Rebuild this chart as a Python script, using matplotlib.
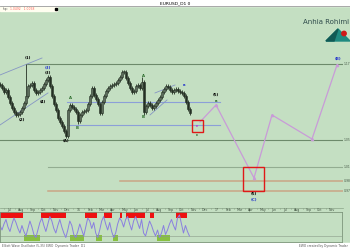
import matplotlib
matplotlib.use("Agg")
import matplotlib.pyplot as plt
from matplotlib.patches import Rectangle, Polygon, Circle
import numpy as np

# ---------------- data ----------------
closes = [1.1376, 1.1328, 1.1264, 1.1296, 1.1183, 1.1087, 1.1006, 1.0942, 1.0894, 1.0910,
          1.0942, 1.1006, 1.1087, 1.1199, 1.1360, 1.1376, 1.1408, 1.1296, 1.1248, 1.1264,
          1.1296, 1.1328, 1.1392, 1.1457, 1.1505, 1.1360, 1.1199, 1.1071, 1.0974, 1.0846,
          1.0781, 1.0717, 1.0637, 1.0556, 1.0974, 1.1055, 1.1022, 1.0990, 1.0942, 1.0797,
          1.0894, 1.0942, 1.0958, 1.0974, 1.1071, 1.1199, 1.1328, 1.1215, 1.1151, 1.1071,
          1.0926, 1.1103, 1.1199, 1.1280, 1.1328, 1.1360, 1.1376, 1.1392, 1.1408, 1.1457,
          1.1505, 1.1585, 1.1585, 1.1489, 1.1408, 1.1328, 1.1264, 1.1280, 1.1360, 1.1376,
          1.1328, 1.1424, 1.0942, 1.1039, 1.1087, 1.1055, 1.1006, 1.1039, 1.1087, 1.1135,
          1.1183, 1.1264, 1.1312, 1.1360, 1.1344, 1.1296, 1.1264, 1.1296, 1.1312, 1.1280,
          1.1264, 1.1248, 1.1199, 1.1103, 1.0990, 1.0926]
high_override = {13: 1.1714, 61: 1.1617, 62: 1.1610, 71: 1.1505}
low_override = {33: 1.0524, 39: 1.0749, 72: 1.0890}

osc = [55, 40, 60, 75, 50, 35, 60, 80, 65, 45, 30, 55, 35, 20, 45, 70, 50, 25, 15, 40,
       65, 80, 55, 35, 60, 85, 70, 45, 30, 55, 75, 50, 30, 15, 40, 70, 55, 25, 15, 35,
       60, 40, 20, 50, 80, 70, 45, 65, 30, 15, 40, 70, 85, 60, 40, 65, 35, 15, 30, 60,
       80, 70, 50, 75, 85, 60, 40, 70, 85, 65, 45, 75, 30, 20, 45, 70, 55, 35, 20, 40,
       15, 30, 55, 25, 40, 60, 75, 55, 40, 80, 90, 60, 30, 55, 35, 20]
red_spans = [(0, 23), (41, 66), (85, 97), (104, 112), (120, 122), (126, 145), (150, 154), (177, 188)]
green_spans = [(24, 40), (70, 84), (96, 102), (113, 118), (157, 170)]

proj_x = [200, 216, 254, 272, 312, 337]
proj_y = [1.0781, 1.1055, 0.9881, 1.0894, 1.0508, 1.1698]

# horizontal levels: (price, x_start, x_end, kind)
levels = [(1.1714, 27, 343, 'dark'), (1.0492, 0, 343, 'dark'), (1.0058, 48, 343, 'light'),
          (0.9833, 120, 343, 'orange'), (0.9672, 48, 343, 'orange'),
          (1.1103, 67, 220, 'blue'), (1.0733, 67, 220, 'blue')]
diag_lines = [((0, 1.1537), (42, 1.1810)), ((0, 1.0733), (48, 1.1248)),
              ((150, 1.0894), (167, 1.1135)), ((155, 1.1248), (175, 1.1376))]
boxes = [(192, 203, 1.0620, 1.0813), (243, 264, 0.9672, 1.0058)]

wave_labels = [(28, 1.1810, '(1)', 'black'), (48, 1.1650, '(3)', '#2233cc'),
               (48, 1.1569, '(3)', 'black'), (22, 1.0813, '(2)', 'black'),
               (43, 1.1103, '(4)', 'black'), (66, 1.0476, '(A)', 'black'),
               (70, 1.1167, 'A', '#2a6a2a'), (77, 1.0685, 'B', '#2a6a2a'),
               (143, 1.1520, 'A', '#2a6a2a'), (143, 1.0860, 'B', '#2a6a2a'),
               (184, 1.1376, 'a', '#2233cc'), (197, 1.0720, 'c', '#cc22cc'),
               (197, 1.0569, 'c', '#2a6a2a'), (216, 1.1215, '(5)', 'black'),
               (216, 1.1120, 'a', '#2a6a2a'), (254, 0.9624, '(5)', 'black'),
               (254, 0.9527, '(C)', '#2233cc'), (338, 1.1794, '(B)', '#2233cc')]
months = ['Jul', 'Aug', 'Sep', 'Oct', 'Nov', 'Dec', '16', 'Feb', 'Mar', 'Apr', 'May', 'Jun',
          'Jul', 'Aug', 'Sep', 'Oct', 'Nov', 'Dec', '17', 'Feb', 'Mar', 'Apr', 'May', 'Jun',
          'Jul', 'Aug', 'Sep', 'Oct', 'Nov']
month_x0, month_step = 9.5, 11.5

# ---------------- style ----------------
BG = '#c4dfc2'
CANDLE = '#243024'
colors = {'dark': '#6d8a6b', 'light': '#93ad91', 'orange': '#caa585', 'blue': '#8c9fd8'}

fig = plt.figure(figsize=(3.5, 2.5), dpi=100)
fig.patch.set_facecolor(BG)

# background decorations (pixel coords)
bg = fig.add_axes([0, 0, 1, 1], zorder=-5)
bg.set_xlim(0, 350); bg.set_ylim(250, 0); bg.axis('off')
bg.add_patch(Rectangle((0, 0), 350, 6, color='white'))
bg.add_patch(Rectangle((0, 243), 350, 7, color='white'))
bg.plot([0, 350], [6, 6], color='#9a9a9a', lw=0.6)
bg.add_patch(Rectangle((0, 7), 57, 3.5, color='#fffef0'))
bg.add_patch(Rectangle((55, 7.5), 2, 2.5, color='black'))
bg.text(3, 8.8, 'Inp:', fontsize=2.2, color='#555555', va='center')
bg.text(10, 8.8, '1.0492   1.0058', fontsize=2.2, color='#ff6060', va='center')
bg.plot([0, 343], [207.5, 207.5], color='#8aa488', lw=0.5)
for i, m in enumerate(months):
    bg.text(month_x0 + i * month_step, 209.6, m, fontsize=2.3, color='#445544',
            ha='center', va='center')
    bg.plot([month_x0 + i * month_step - 5.7] * 2, [207.5, 209], color='#8aa488', lw=0.4)

# main price axes
ax = fig.add_axes([0, (250 - 207) / 250, 343 / 350, 199 / 250])
ax.set_facecolor('none')
ax.set_xlim(0, 343)
ax.set_ylim(0.9414, 1.2614)
for s in ax.spines.values():
    s.set_visible(False)
ax.set_xticks([]); ax.set_yticks([])

for price, x0, x1, kind in levels:
    lw = 1.1 if kind == 'orange' else 0.8
    ax.plot([x0, x1], [price, price], color=colors[kind], lw=lw, zorder=1)
    if x1 >= 343:
        ax.text(344, price, f'{price:.2f}', fontsize=2.2, color='#445544', va='center',
                clip_on=False)
for (xa, ya), (xb, yb) in diag_lines:
    ax.plot([xa, xb], [ya, yb], color='#8696c4', lw=0.6, zorder=1)

xs = np.arange(len(closes)) * 2
opens = [closes[0] + 0.002] + closes[:-1]
wick = 0.0035
for i, (x, o, c) in enumerate(zip(xs, opens, closes)):
    hi = high_override.get(i, max(o, c) + wick)
    lo = low_override.get(i, min(o, c) - wick)
    ax.vlines(x, lo, hi, color=CANDLE, lw=0.6, zorder=3)
    ax.bar(x, max(abs(c - o), 0.0012), bottom=min(o, c), width=1.5,
           color=CANDLE if c < o else '#5d6d5c', edgecolor=CANDLE, lw=0.4, zorder=4)

ax.plot(proj_x, proj_y, color='#c99bd8', lw=0.9, zorder=5)
ax.plot(proj_x[1:], proj_y[1:], ls='none', marker='^', ms=1.6, color='#c99bd8', zorder=5)

for x0, x1, y0, y1 in boxes:
    ax.add_patch(Rectangle((x0, y0), x1 - x0, y1 - y0, fill=False, ec='#e01818', lw=1.0,
                           zorder=6))

for x, y, t, c in wave_labels:
    ax.text(x, y, t, fontsize=2.8, color=c, ha='center', va='center', zorder=7,
            fontweight='bold')

# oscillator axes
ox = fig.add_axes([0, (250 - 242) / 250, 342 / 350, 30 / 250])
ox.set_facecolor(BG)
ox.set_xlim(0, 343)
ox.set_ylim(0, 100)
for s in ox.spines.values():
    s.set_color('#7d957b'); s.set_linewidth(0.6)
ox.set_xticks([]); ox.set_yticks([])
for a, b in red_spans:
    ox.add_patch(Rectangle((a, 80), b - a, 20, color='#ee1010', lw=0))
for a, b in green_spans:
    ox.add_patch(Rectangle((a, 3), b - a, 20, color='#88c040', lw=0))
ox.plot([0, 343], [20, 20], color='#8a9a88', lw=0.4)
ox.plot(np.arange(len(osc)) * 2, osc, color='#8a7fe0', lw=0.7)

# top layer text / logo
top = fig.add_axes([0, 0, 1, 1], zorder=10)
top.set_xlim(0, 350); top.set_ylim(250, 0); top.axis('off')
top.text(175, 3, 'EURUSD_D1 0', fontsize=3.2, color='black', ha='center', va='center')
top.text(349, 21.5, 'Anhia Rohimi', fontsize=5.0, color='#2f4b4b', ha='right', va='center')
top.add_patch(Polygon([[326, 41], [338, 29], [350, 41]], closed=True, color='#1f8a80'))
top.add_patch(Polygon([[326, 41], [338, 29], [334, 41]], closed=True, color='#115a55'))
top.add_patch(Circle((344, 33.5), 2.2, color='#d01818'))
top.text(2, 246.5, 'Elliott Wave Oscillator (5,35) EWO  Dynamic Trader  D1', fontsize=2.2,
         color='#555555', va='center')
top.text(348, 246.5, 'EWO created by Dynamic Trader', fontsize=2.2, color='#555555',
         ha='right', va='center')

fig.savefig('out.png', dpi=100, facecolor=fig.get_facecolor())
